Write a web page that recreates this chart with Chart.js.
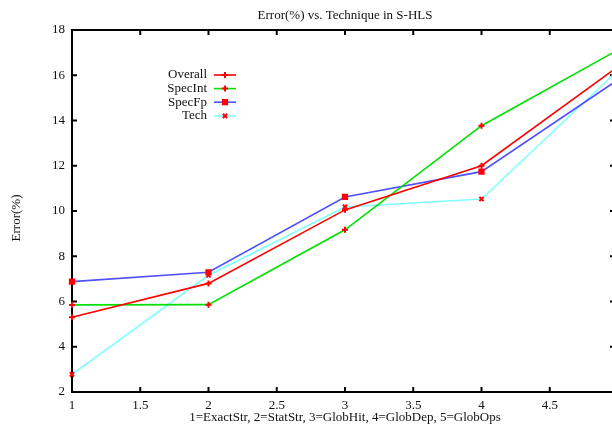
<!DOCTYPE html>
<html>
<head>
<meta charset="utf-8">
<script src="https://cdn.jsdelivr.net/npm/chart.js@4"></script>
<style>
  html, body { margin: 0; padding: 0; background: #fff; overflow: hidden; width: 612px; height: 426px; }
  canvas { display: block; }
</style>
</head>
<body>
<canvas id="c" width="624" height="426"></canvas>
<script>
const xValues = [1, 2, 3, 4, 5];
const overall = [5.3, 6.8, 10.05, 12.0, 16.38];
const specInt = [5.85, 5.86, 9.17, 13.77, 17.12];
const specFp = [6.88, 7.29, 10.62, 11.74, 15.8];
const tech = [2.78, 7.16, 10.18, 10.53, 16.22];
const seriesNames = ['Overall', 'SpecInt', 'SpecFp', 'Tech'];
const titleText = 'Error(%) vs. Technique in S-HLS';
const xTitle = '1=ExactStr, 2=StatStr, 3=GlobHit, 4=GlobDep, 5=GlobOps';
const yTitle = 'Error(%)';

const FONT = '"Liberation Serif", "DejaVu Serif", serif';
const MARK = '#ff0000';

function pts(vals) {
  return vals.map((v, i) => ({x: xValues[i], y: v}));
}

function ds(label, vals, color, style, r) {
  return {
    label: label,
    data: pts(vals),
    borderColor: color,
    borderWidth: 1.6,
    pointStyle: style,
    pointRadius: r,
    pointBorderColor: MARK,
    pointBackgroundColor: MARK,
    pointBorderWidth: 2,
    tension: 0,
    fill: false,
    clip: false
  };
}

// frame, inward ticks, titles and legend
const decor = {
  id: 'decor',
  beforeDatasetsDraw(chart) {
    const ctx = chart.ctx;
    const a = chart.chartArea;
    const xs = chart.scales.x, ys = chart.scales.y;
    ctx.save();
    ctx.strokeStyle = '#000';
    ctx.lineWidth = 2;
    ctx.strokeRect(a.left, a.top, a.right - a.left, a.bottom - a.top);
    ctx.beginPath();
    xs.ticks.forEach(t => {
      const px = xs.getPixelForValue(t.value);
      ctx.moveTo(px, a.bottom); ctx.lineTo(px, a.bottom - 5);
      ctx.moveTo(px, a.top); ctx.lineTo(px, a.top + 5);
    });
    ys.ticks.forEach(t => {
      const py = ys.getPixelForValue(t.value);
      ctx.moveTo(a.left, py); ctx.lineTo(a.left + 5, py);
      ctx.moveTo(a.right, py); ctx.lineTo(a.right - 8, py);
    });
    ctx.stroke();
    ctx.restore();
  },
  afterDraw(chart) {
    const ctx = chart.ctx;
    const a = chart.chartArea;
    ctx.save();
    ctx.fillStyle = '#111';
    ctx.font = '13px ' + FONT;
    ctx.textAlign = 'center';
    ctx.textBaseline = 'middle';
    ctx.fillText(titleText, (a.left + a.right) / 2, 16);
    ctx.fillText(xTitle, (a.left + a.right) / 2, 418);
    ctx.save();
    ctx.translate(17, 218);
    ctx.rotate(-Math.PI / 2);
    ctx.fillText(yTitle, 0, 0);
    ctx.restore();

    // legend
    chart.data.datasets.forEach((d, i) => {
      const y = 75 + i * 13.6;
      ctx.textAlign = 'right';
      ctx.fillStyle = '#111';
      ctx.fillText(d.label, 207, y);
      ctx.strokeStyle = d.borderColor;
      ctx.lineWidth = 1.6;
      ctx.beginPath();
      ctx.moveTo(214, y); ctx.lineTo(236, y);
      ctx.stroke();
      ctx.strokeStyle = MARK;
      ctx.fillStyle = MARK;
      ctx.lineWidth = 2;
      Chart.helpers.drawPoint(ctx, {pointStyle: d.pointStyle, radius: d.pointRadius, rotation: 0, borderWidth: 2}, 225, y);
    });
    ctx.restore();
  }
};

new Chart(document.getElementById('c'), {
  type: 'line',
  data: {
    datasets: [
      ds(seriesNames[0], overall, '#ff0000', 'cross', 3),
      ds(seriesNames[1], specInt, '#00e000', 'cross', 3),
      ds(seriesNames[2], specFp, '#5050ff', 'rect', 3),
      ds(seriesNames[3], tech, '#80ffff', 'crossRot', 3)
    ]
  },
  options: {
    responsive: false,
    devicePixelRatio: 1,
    animation: false,
    layout: {padding: {top: 30, right: 4, left: 0, bottom: 0}},
    plugins: {legend: {display: false}, title: {display: false}, tooltip: {enabled: false}},
    scales: {
      x: {
        type: 'linear', min: 1, max: 5,
        grid: {display: false, drawTicks: false},
        border: {display: false},
        ticks: {
          stepSize: 0.5, padding: 6, color: '#111', maxRotation: 0,
          font: {family: FONT, size: 13},
          callback: v => (v >= 5 ? '' : String(v))
        },
        afterFit(s) { s.height = 34; }
      },
      y: {
        min: 2, max: 18,
        grid: {display: false, drawTicks: false},
        border: {display: false},
        ticks: {stepSize: 2, padding: 7, color: '#111', font: {family: FONT, size: 13}},
        afterFit(s) { s.width = 72; }
      }
    }
  },
  plugins: [decor]
});
</script>
</body>
</html>
